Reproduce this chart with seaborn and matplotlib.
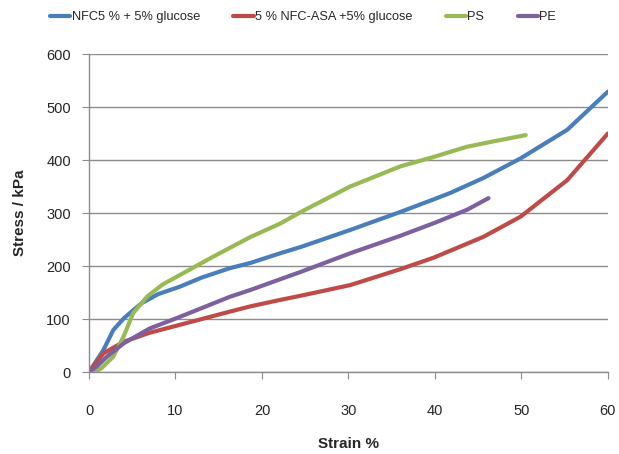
import pandas as pd
import numpy as np
import matplotlib
matplotlib.use("Agg")
import matplotlib.pyplot as plt
import seaborn as sns

# Series (strain %, stress kPa)
nfc_x = [0, 1.65, 2.8, 4.0, 5.0, 6.1, 8.0, 10.5, 13.0, 16.3, 18.7, 22.1, 24.5, 30.2, 36.0, 39.9, 41.8, 45.6, 49.9, 55.3, 60.0]
nfc_y = [0, 41, 79, 101, 115, 130, 147, 161, 178, 196, 206, 224, 236, 268, 302, 326, 338, 366, 403, 457, 529]

asa_x = [0, 1.65, 4.0, 7.0, 10.5, 16.3, 18.7, 22.1, 24.5, 30.2, 36.0, 39.9, 41.8, 45.6, 49.9, 55.3, 60.0]
asa_y = [0, 35, 57, 74, 89, 114, 124, 136, 144, 164, 194, 216, 229, 255, 293, 362, 450]

ps_x = [0.7, 1.5, 2.8, 4.0, 5.1, 6.7, 8.5, 10.5, 14.4, 18.7, 22.1, 24.5, 30.2, 36.0, 39.9, 43.7, 46.4, 50.5]
ps_y = [0, 8, 29, 67, 111, 142, 165, 183, 218, 255, 280, 302, 350, 388, 406, 425, 434, 447]

pe_x = [0, 1.0, 2.0, 4.0, 7.0, 10.5, 16.3, 18.7, 22.1, 24.5, 30.2, 36.0, 39.9, 43.7, 46.2]
pe_y = [0, 12, 28, 54, 82, 104, 142, 155, 175, 189, 224, 257, 281, 306, 328]

labels = ["NFC5 % + 5% glucose", "5 % NFC-ASA +5% glucose", "PS", "PE"]
colors = ["#4A7EBB", "#BE4B48", "#98B954", "#7D60A0"]

sns.set_style("white")
plt.rcParams['font.family'] = ['Liberation Sans', 'DejaVu Sans']

fig = plt.figure(figsize=(6.19, 4.54), dpi=100)
ax = fig.add_axes([0.1438, 0.1806, 0.982 - 0.1438, 0.881 - 0.1806])

series = [(nfc_x, nfc_y), (asa_x, asa_y), (ps_x, ps_y), (pe_x, pe_y)]
for (xs, ys), lab, col in zip(series, labels, colors):
    sns.lineplot(x=xs, y=ys, ax=ax, color=col, linewidth=3, label=lab, sort=False)

ax.set_xlim(0, 60)
ax.set_ylim(0, 600)
ax.set_xticks(range(0, 61, 10))
ax.set_yticks(range(0, 601, 100))
ax.yaxis.grid(True, color="#8c8c8c", linewidth=1)
ax.xaxis.grid(False)
for s in ["top", "right"]:
    ax.spines[s].set_visible(False)
for s in ["left", "bottom"]:
    ax.spines[s].set_color("#8c8c8c")
    ax.spines[s].set_linewidth(1)
ax.tick_params(axis="x", direction="out", length=5, color="#8c8c8c", pad=18, labelsize=10.5, bottom=True)
ax.tick_params(axis="y", direction="out", length=5, color="#8c8c8c", pad=8, labelsize=10.5, left=True)

ax.set_xlabel("Strain %", fontsize=11, fontweight="bold", labelpad=14)
ax.set_ylabel("Stress / kPa", fontsize=11, fontweight="bold", labelpad=14)

ax.legend(loc="center left", bbox_to_anchor=(50 / 619, 1 - 17 / 454), bbox_transform=fig.transFigure,
          ncol=4, frameon=False, borderpad=0, borderaxespad=0,
          fontsize=9.2, handlelength=1.6, handletextpad=0.1, columnspacing=2.6)

fig.savefig("out.png", dpi=100)
